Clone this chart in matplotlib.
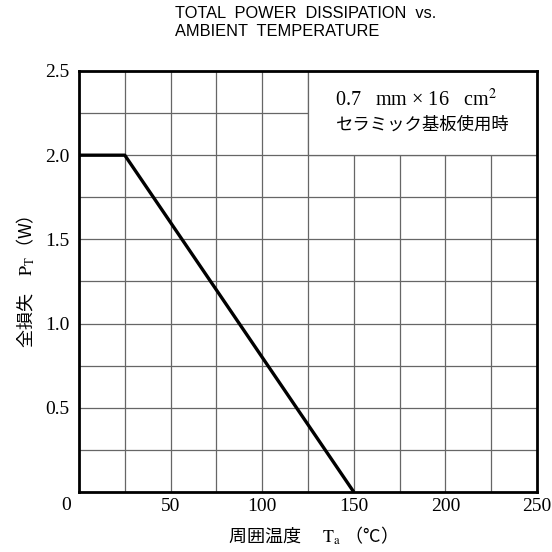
import numpy as np
import matplotlib.pyplot as plt
from matplotlib.patches import Rectangle

plt.rcParams['mathtext.fontset'] = 'stix'

# ---- Data ----
ta = [0, 25, 150]          # ambient temperature (deg C)
pt = [2.0, 2.0, 0.0]       # total power dissipation (W)

x_ticks = [50, 100, 150, 200, 250]
y_ticks = [0.5, 1.0, 1.5, 2.0, 2.5]
x_grid = np.arange(25, 250, 25)
y_grid = np.arange(0.25, 2.5, 0.25)

serif = ['Liberation Serif', 'Noto Sans CJK JP']
cjk = ['Noto Sans CJK JP', 'Liberation Serif']

fig = plt.figure(figsize=(5.52, 5.52), dpi=100)
ax = fig.add_axes([0.1431, 0.1087, 0.8297, 0.7627])

# grid
for xv in x_grid:
    ax.axvline(xv, color='#666666', lw=0.9, zorder=1)
for yv in y_grid:
    ax.axhline(yv, color='#666666', lw=0.9, zorder=1)

# white panel for the note (grid hidden behind it)
ax.add_patch(Rectangle((125, 2.0), 125, 0.5, facecolor='white',
                       edgecolor='#666666', lw=0.9, zorder=2))

ax.plot(ta, pt, color='black', lw=2.4, solid_capstyle='butt', zorder=4)

ax.set_xlim(0, 250)
ax.set_ylim(0, 2.5)
ax.set_xticks(x_ticks)
ax.set_yticks(y_ticks)
ax.set_xticklabels([str(v) for v in x_ticks], family=serif, fontsize=14)
ax.set_yticklabels([f'{v:.1f}' for v in y_ticks], family=serif, fontsize=14)
ax.tick_params(length=0)
ax.tick_params(axis='x', pad=4)
ax.tick_params(axis='y', pad=7)
for s in ax.spines.values():
    s.set_linewidth(2)
    s.set_zorder(5)

ax.text(-0.028, -0.012, '0', transform=ax.transAxes, ha='center', va='top',
        family=serif, fontsize=14)

ax.set_xlabel('周囲温度　 $\\mathrm{T_a}$ （°C）', family=cjk, fontsize=13, labelpad=7)
ax.set_ylabel('全損失　$\\mathrm{P_T}$（W）', family=cjk, fontsize=13, labelpad=6)

ax.text(140, 2.33, '0.7   mm × 16   cm$^2$', family=serif, fontsize=14.5,
        ha='left', va='center', zorder=3)
ax.text(140, 2.18, 'セラミック基板使用時', family=cjk, fontsize=12.5,
        ha='left', va='center', zorder=3)

fig.text(175 / 552, 1 - 14 / 552, 'TOTAL  POWER  DISSIPATION  vs.',
         family='Liberation Sans', fontsize=11.8, ha='left', va='center')
fig.text(175 / 552, 1 - 31 / 552, 'AMBIENT  TEMPERATURE',
         family='Liberation Sans', fontsize=11.8, ha='left', va='center')

fig.savefig('out.png', dpi=100)
